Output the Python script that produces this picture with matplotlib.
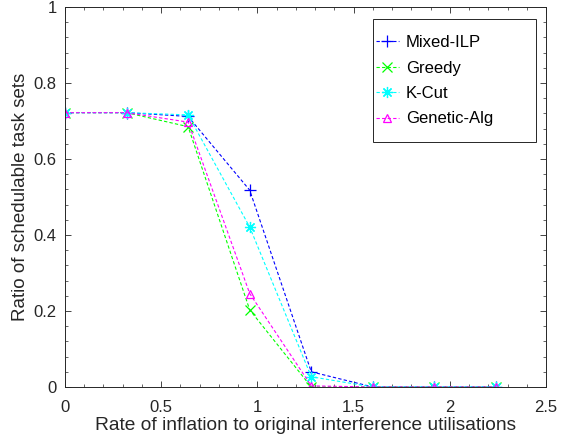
import matplotlib
matplotlib.use('Agg')
import matplotlib.pyplot as plt
from matplotlib.patches import Rectangle
from matplotlib.ticker import MultipleLocator

plt.rcParams['font.family'] = ['Liberation Sans', 'DejaVu Sans']

# inflation rates on the x axis
rates = [0, 0.32, 0.64, 0.96, 1.28, 1.6, 1.92, 2.24]

# schedulable ratio per approach
mixed_ilp = [0.722, 0.722, 0.712, 0.518, 0.040, 0, 0, 0]
greedy = [0.722, 0.722, 0.685, 0.203, 0.0, 0, 0, 0]
k_cut = [0.722, 0.722, 0.716, 0.421, 0.027, 0, 0, 0]
genetic_alg = [0.722, 0.722, 0.697, 0.246, 0.003, 0, 0, 0]

series_names = ['Mixed-ILP', 'Greedy', 'K-Cut', 'Genetic-Alg']
x_ticks = [0, 0.5, 1, 1.5, 2, 2.5]
x_ticklabels = ['0', '0.5', '1', '1.5', '2', '2.5']
y_ticks = [0, 0.2, 0.4, 0.6, 0.8, 1]
y_ticklabels = ['0', '0.2', '0.4', '0.6', '0.8', '1']

W, H = 570, 440
fig = plt.figure(figsize=(5.7, 4.4), dpi=100)
ax = fig.add_axes([65 / W, 1 - 387 / H, 481 / W, 380 / H])

# matlab-ish colours / markers
styles = [((0, 0, 1), '+', 8), ((0, 1, 0), 'x', 7), ((0, 1, 1), (8, 2, 0), 8), ((1, 0, 1), '^', 6)]
for vals, name, (col, mk, ms) in zip([mixed_ilp, greedy, k_cut, genetic_alg], series_names, styles):
    ax.plot(rates, vals, linestyle='--', dashes=(3, 2), color=col, marker=mk, markersize=ms,
            markerfacecolor='none', markeredgecolor=col, markeredgewidth=0.9, linewidth=0.8, label=name)

ax.set_xlim(0, 2.5)
ax.set_ylim(0, 1)
ax.set_xticks(x_ticks)
ax.set_xticklabels(x_ticklabels)
ax.set_yticks(y_ticks)
ax.set_yticklabels(y_ticklabels)
ax.xaxis.set_minor_locator(MultipleLocator(0.1))
ax.yaxis.set_minor_locator(MultipleLocator(0.04))
ax.tick_params(which='both', direction='in', top=True, right=True, labelsize=12, colors='#262626')
ax.tick_params(which='major', length=4, width=0.6)
ax.tick_params(which='minor', length=2, width=0.5)
ax.tick_params(axis='x', pad=9)
ax.tick_params(axis='y', pad=6)
for sp in ax.spines.values():
    sp.set_linewidth(0.7)
    sp.set_color('#262626')

ax.set_xlabel('Rate of inflation to original interference utilisations', fontsize=13.8, color='#262626', labelpad=2)
ax.set_ylabel('Ratio of schedulable task sets', fontsize=13.5, color='#262626', labelpad=3)

# legend entries without frame, box drawn separately (matlab style padding)
leg = ax.legend(loc='upper left', bbox_to_anchor=(376 / W, 1 - 35 / H), bbox_transform=fig.transFigure,
                fontsize=12, frameon=False, handlelength=1.35, borderpad=0, labelspacing=0.63,
                handletextpad=0.45, borderaxespad=0)
leg.set_zorder(6)
box = Rectangle((373 / W, 1 - 142 / H), 163 / W, 123 / H, transform=fig.transFigure,
                facecolor='white', edgecolor='#262626', linewidth=0.7, zorder=5, clip_on=False)
ax.add_patch(box)

plt.savefig('out.png', dpi=100)
